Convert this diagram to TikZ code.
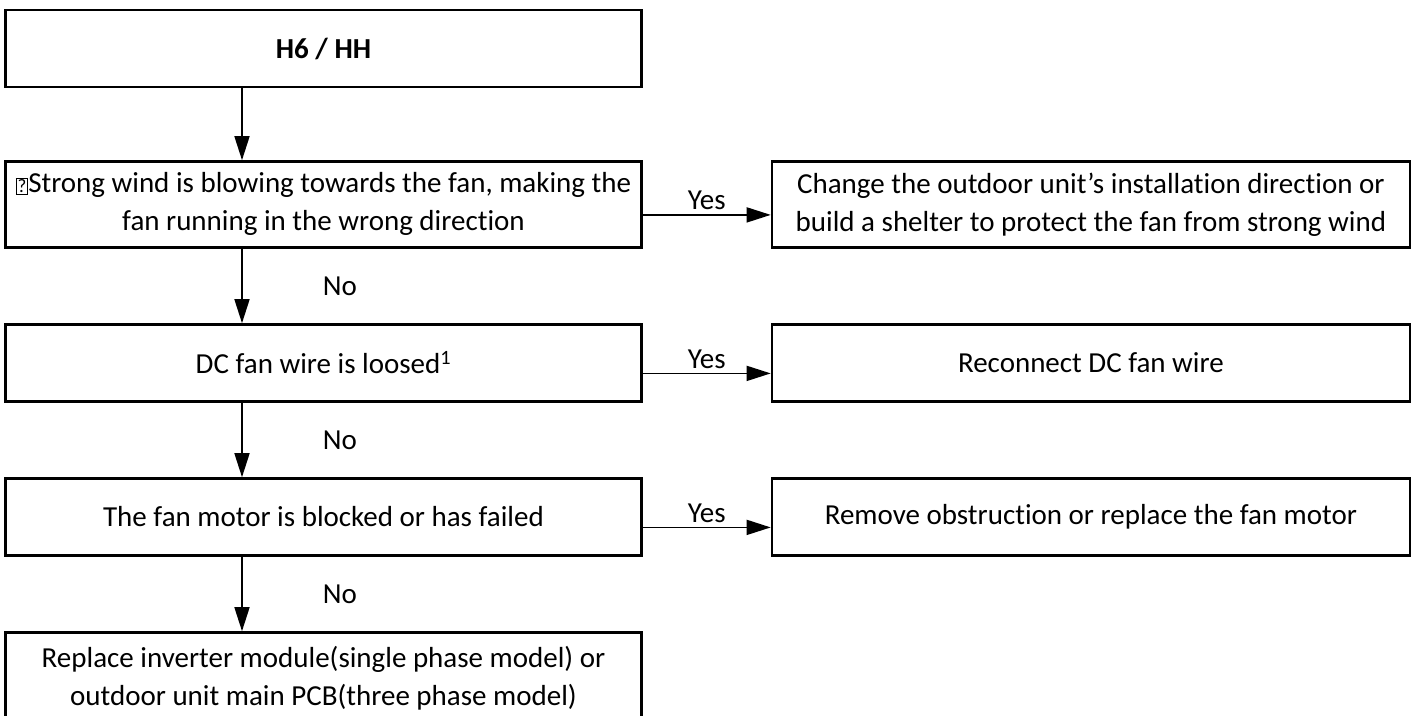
\documentclass[tikz,border=0pt]{standalone}
\usepackage{fontspec}
\setmainfont{Carlito}[Ligatures=NoCommon]
\usetikzlibrary{arrows.meta,positioning}

\begin{document}
\begin{tikzpicture}[x=1pt, y=-1pt,
        box/.style={draw, line width=2.4pt, align=center, inner sep=0pt, minimum width=636pt, minimum height=77pt, font=\fontsize{29}{38}\selectfont},
        fix/.style={box, minimum width=638pt},
        flow/.style={-{Triangle[length=24pt, width=15pt]}, line width=1.6pt},
        lbl/.style={font=\fontsize{29}{38}\selectfont, inner sep=4pt}]

            \useasboundingbox (0,0) rectangle (1415,715);

            % left column: the checks
            \node[box] (start) at (323.5,48.5) {\textbf{H6 / HH}};
            \node[box, minimum height=86pt, below=72pt of start] (q_wind) {{\fboxsep=1pt\fboxrule=0.8pt\fbox{\fontsize{19}{19}\selectfont ?}}Strong wind is blowing towards the fan, making the \\ fan running in the wrong direction};
            \node[box, below=74.6pt of q_wind] (q_wire) {DC fan wire is loosed\textsuperscript{1}};
            \node[box, below=74.6pt of q_wire] (q_motor) {The fan motor is blocked or has failed};
            \node[box, minimum height=92pt, below=74.6pt of q_motor] (replace) {Replace inverter module(single phase model) or \\ outdoor unit main PCB(three phase model)};

            % right column: the fixes
            \node[fix, minimum height=86pt, right=128pt of q_wind] (a_wind) {Change the outdoor unit’s installation direction or \\ build a shelter to protect the fan from strong wind};
            \node[fix, right=128pt of q_wire] (a_wire) {Reconnect DC fan wire};
            \node[fix, right=128pt of q_motor] (a_motor) {Remove obstruction or replace the fan motor};

            % connectors
            \draw[flow] ([xshift=-81.5pt]start.south) -- ([xshift=-81.5pt]q_wind.north);
            \draw[flow] ([xshift=-81.5pt]q_wind.south) -- node[lbl, right, xshift=76pt] {No} ([xshift=-81.5pt]q_wire.north);
            \draw[flow] ([xshift=-81.5pt]q_wire.south) -- node[lbl, right, xshift=76pt] {No} ([xshift=-81.5pt]q_motor.north);
            \draw[flow] ([xshift=-81.5pt]q_motor.south) -- node[lbl, right, xshift=76pt] {No} ([xshift=-81.5pt]replace.north);

            \draw[flow] ([yshift=-10.5pt]q_wind.east) -- node[lbl, above] {Yes} ([yshift=-10.5pt]a_wind.west);
            \draw[flow] ([yshift=-10.5pt]q_wire.east) -- node[lbl, above] {Yes} ([yshift=-10.5pt]a_wire.west);
            \draw[flow] ([yshift=-10.5pt]q_motor.east) -- node[lbl, above] {Yes} ([yshift=-10.5pt]a_motor.west);

\end{tikzpicture}
\end{document}
